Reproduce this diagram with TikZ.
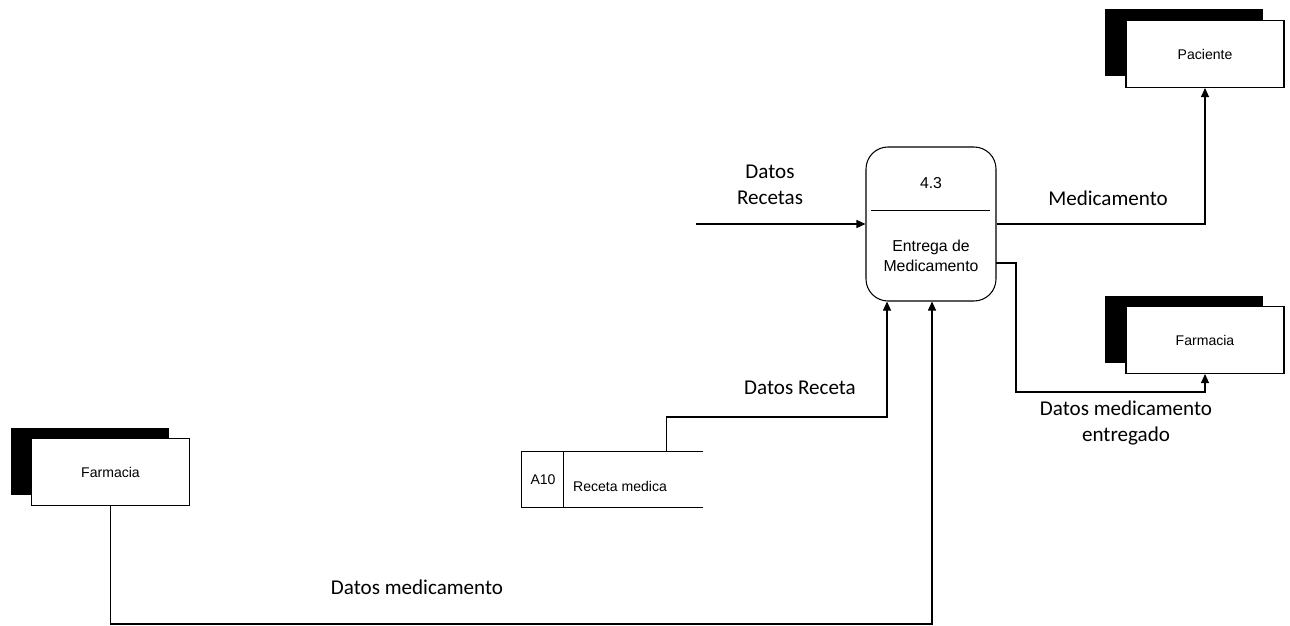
\documentclass[tikz,border=0pt]{standalone}
\usepackage{fontspec}
\setmainfont{Carlito}
\newfontfamily\arialf{Liberation Sans}
\usetikzlibrary{arrows.meta,shadows,calc}
\begin{document}
\begin{tikzpicture}[x=0.02cm,y=-0.02cm,
  line width=0.6pt,
  arr/.style={-{Triangle[length=9*0.02cm,width=8*0.02cm]}},
  lbl/.style={font=\fontsize{12}{14.5}\selectfont,align=center,inner sep=0pt},
  ent/.style={draw,fill=white,minimum width=158*0.02cm,minimum height=67*0.02cm,inner sep=0pt,
    font=\arialf\fontsize{8}{10}\selectfont,
    general shadow={fill=black,shadow xshift=-21*0.02cm,shadow yshift=11*0.02cm}},
  proc/.style={draw,rounded corners=22*0.02cm,minimum width=130*0.02cm,minimum height=154*0.02cm,inner sep=0pt},
  ptxt/.style={font=\arialf\fontsize{9}{11}\selectfont,align=center,inner sep=0pt}
]
\useasboundingbox (0,0) rectangle (1290,625);

% process
\node[proc] (p) at (931,224) {};
\node[ptxt] (pnum) at (931,183) {4.3};
\node[ptxt] (pname) at (931,256) {Entrega de\\Medicamento};
\draw[line width=0.5pt] (871,210) -- (990,210);

% external entities
\node[ent] (pac) at (1205,54) {Paciente};
\node[ent] (farR) at (1205,340) {Farmacia};
\node[ent] (farL) at (110.5,472) {Farmacia};

% data store
\node[minimum width=180*0.02cm,minimum height=55*0.02cm,inner sep=0pt] (store) at (612,479.5) {};
\draw (store.north east) -- (store.north west) -- (store.south west) -- (store.south east);
\draw ($(store.north west)+(42,0)$) -- ($(store.south west)+(42,0)$);
\node[font=\arialf\fontsize{8}{10}\selectfont,inner sep=0pt] (sid) at (543,480) {A10};
\node[font=\arialf\fontsize{8}{10}\selectfont,inner sep=0pt] (sname) at (620,486) {Receta medica};

% helper coordinates
\coordinate (in1) at (696,224);
\coordinate (o2) at (996,263);
\coordinate (x887) at (887,0);
\coordinate (x932) at (932,0);

% connectors
\draw[arr] (in1) -- (p.west);
\draw[arr] (p.east) -| (pac.south);
\draw[arr] (o2) -| (1016,392) -| (farR.south);
\draw[arr] ($(store.north west)+(145,0)$) |- (887,417) -- (p.south -| x887);
\draw[arr] (farL.south) |- (932,624) -- (p.south -| x932);

% labels
\node[lbl] (l1) at (770,185) {Datos\\Recetas};
\node[lbl] (l2) at (1108,198) {Medicamento};
\node[lbl] (l3) at (1126,423) {Datos medicamento\\entregado};
\node[lbl] (l4) at (800,388) {Datos Receta};
\node[lbl] (l5) at (417,587) {Datos medicamento};
\end{tikzpicture}
\end{document}
